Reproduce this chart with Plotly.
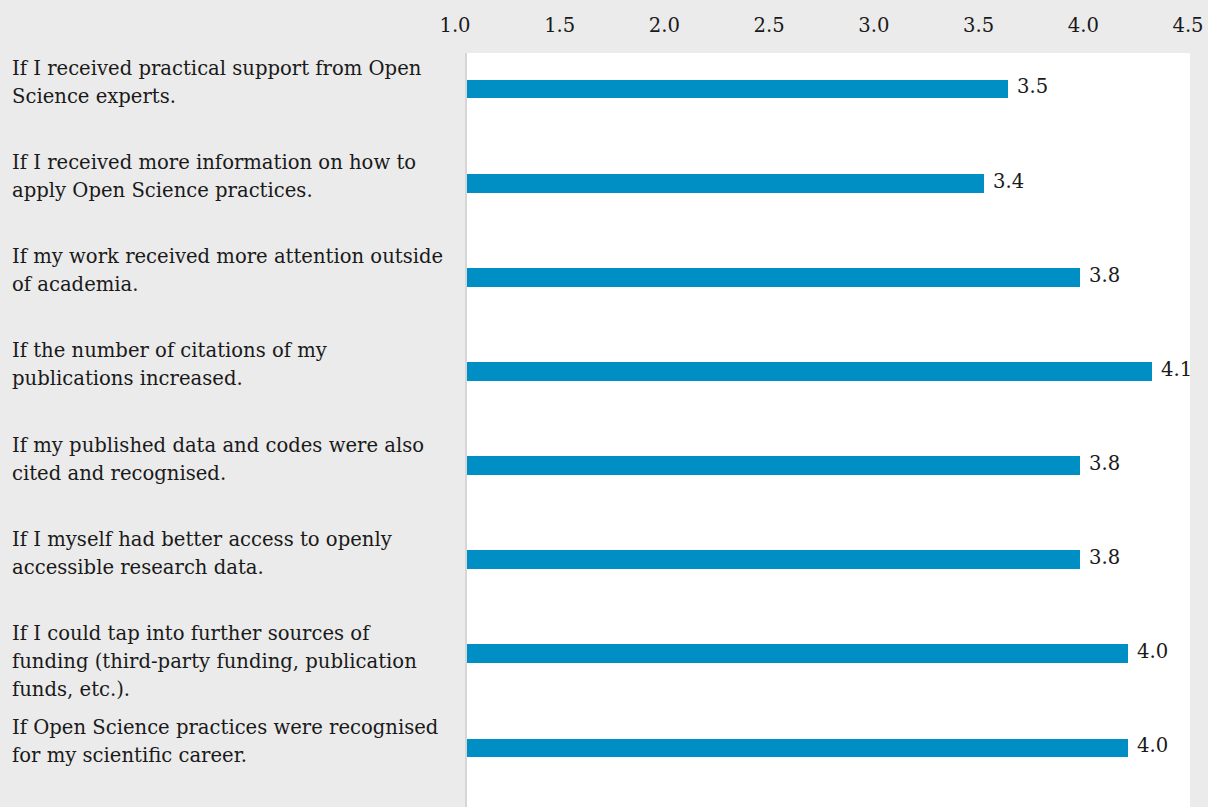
import plotly.graph_objects as go

# Survey statements (line breaks as displayed) and their mean agreement scores
statements = [
    "If I received practical support from Open<br>Science experts.",
    "If I received more information on how to<br>apply Open Science practices.",
    "If my work received more attention outside<br>of academia.",
    "If the number of citations of my<br>publications increased.",
    "If my published data and codes were also<br>cited and recognised.",
    "If I myself had better access to openly<br>accessible research data.",
    "If I could tap into further sources of<br>funding (third-party funding, publication<br>funds, etc.).",
    "If Open Science practices were recognised<br>for my scientific career.",
]
scores = [3.5, 3.4, 3.8, 4.1, 3.8, 3.8, 4.0, 4.0]
scale_ticks = [1.0, 1.5, 2.0, 2.5, 3.0, 3.5, 4.0, 4.5]

W, H = 1208, 807
FONT = "DejaVu Serif"
INK = "#1a1a1a"
BAR = "#008fc4"
PAPER = "#ebebeb"
LINE_STEP = 28  # px between wrapped label lines

fig = go.Figure()
fig.add_trace(go.Bar(
    x=scores,
    y=statements,
    orientation="h",
    marker=dict(color=BAR, line=dict(width=0)),
    width=0.2,
    hoverinfo="skip",
))
# carrier for the top score scale (no visible marks)
fig.add_trace(go.Scatter(
    x=[scale_ticks[0], scale_ticks[-1]],
    y=[statements[0], statements[0]],
    xaxis="x2", yaxis="y",
    mode="markers", marker=dict(opacity=0, size=1),
    hoverinfo="skip", showlegend=False,
))

annotations = []
# left-aligned statement labels, one annotation per wrapped line
for s in statements:
    for k, line in enumerate(s.split("<br>")):
        annotations.append(dict(
            x=0, xref="paper", xanchor="left", xshift=10,
            y=s, yref="y", yanchor="top", yshift=34 - k * LINE_STEP,
            text=line, showarrow=False, align="left",
            font=dict(family=FONT, size=19.6, color=INK),
        ))
# value labels at the end of each bar
for s, v in zip(statements, scores):
    annotations.append(dict(
        x=v, xref="x", xanchor="left", xshift=7,
        y=s, yref="y", yanchor="middle", yshift=2,
        text=f"{v:.1f}", showarrow=False,
        font=dict(family=FONT, size=19.6, color=INK),
    ))

fig.update_layout(
    width=W, height=H,
    margin=dict(l=0, r=0, t=0, b=0, autoexpand=False),
    paper_bgcolor=PAPER,
    plot_bgcolor="rgba(0,0,0,0)",
    showlegend=False,
    bargap=0,
    shapes=[dict(
        type="rect", xref="x domain", yref="y domain",
        x0=0, x1=1, y0=0, y1=1,
        fillcolor="white", line=dict(width=0), layer="below",
    )],
    xaxis=dict(
        domain=[467 / W, 1190 / W],
        range=[1.251, 4.257],
        showgrid=False, zeroline=False, showticklabels=False,
        showline=False, ticks="", automargin=False,
    ),
    xaxis2=dict(
        domain=[455 / W, 1188 / W],
        anchor="free", position=1 - 36 / H, side="top",
        range=[1.0, 4.5],
        tickvals=scale_ticks,
        ticktext=[f"{t:.1f}" for t in scale_ticks],
        showgrid=False, zeroline=False, showline=False, ticks="",
        tickfont=dict(family=FONT, size=19.6, color=INK),
        automargin=False,
    ),
    yaxis=dict(
        domain=[0, 1 - 53 / H],
        type="category",
        categoryorder="array", categoryarray=statements,
        range=[7.627, -0.382],
        showgrid=False, zeroline=False, showticklabels=False, ticks="",
        showline=True, linecolor="#d6d6d6", linewidth=2,
        automargin=False,
    ),
    annotations=annotations,
)

fig.write_html("out.html")
